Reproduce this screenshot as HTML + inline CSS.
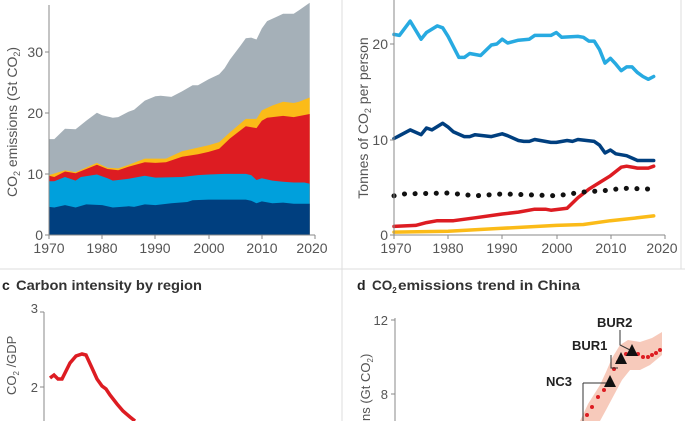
<!DOCTYPE html>
<html><head><meta charset="utf-8"><style>
body{margin:0;background:#fff;width:685px;height:421px;overflow:hidden;font-family:"Liberation Sans",sans-serif}
svg text{font-family:"Liberation Sans",sans-serif}
</style></head><body>
<svg id="s" width="685" height="421" xmlns="http://www.w3.org/2000/svg">
<line x1="0" y1="269" x2="685" y2="269" stroke="#ddd" stroke-width="1"/>
<line x1="342" y1="0" x2="342" y2="421" stroke="#ddd" stroke-width="1"/>
<line x1="681" y1="0" x2="681" y2="269" stroke="#ddd" stroke-width="1"/>
<g id="a"></g><g id="b"></g>
<g stroke="#888" stroke-width="1" fill="none">
<path d="M49,5 V235 H315"/>
<path d="M45,235H49M45,174H49M45,113H49M45,52H49"/>
<path d="M49,235v4M102,235v4M155,235v4M209,235v4M262,235v4M315,235v4"/>
<path d="M394,0 V235 H665"/>
<path d="M390,235H394M390,140H394M390,44H394"/>
<path d="M394,235v4M448,235v4M502,235v4M557,235v4M611,235v4M665,235v4"/>
<path d="M44,312V421M40,312H44M40,387H44"/>
<path d="M395,318V421M391,320H395M391,394H395"/>
</g>
<g fill="#555" font-size="14" text-anchor="end">
<text x="43" y="240">0</text><text x="43" y="179">10</text><text x="43" y="118">20</text><text x="43" y="57">30</text>
<text x="388" y="240">0</text><text x="388" y="145">10</text><text x="388" y="49">20</text>
</g>
<g fill="#555" font-size="14" text-anchor="middle">
<text x="49" y="253">1970</text><text x="102" y="253">1980</text><text x="155" y="253">1990</text><text x="209" y="253">2000</text><text x="262" y="253">2010</text><text x="312" y="253">2020</text>
<text x="396" y="253">1970</text><text x="448" y="253">1980</text><text x="502" y="253">1990</text><text x="557" y="253">2000</text><text x="611" y="253">2010</text><text x="662" y="253">2020</text>
</g>
<text transform="translate(17,122) rotate(-90)" fill="#555" font-size="14" text-anchor="middle">CO<tspan font-size="9" dy="3">2</tspan><tspan dy="-3"> emissions (Gt CO</tspan><tspan font-size="9" dy="3">2</tspan><tspan dy="-3">)</tspan></text>
<text transform="translate(368,118) rotate(-90)" fill="#555" font-size="14" text-anchor="middle">Tonnes of CO<tspan font-size="9" dy="3">2</tspan><tspan dy="-3"> per person</tspan></text>
<text x="2" y="290" font-size="14" font-weight="bold" fill="#222">c</text>
<text x="16" y="290" font-size="13.5" font-weight="bold" fill="#333" textLength="186" lengthAdjust="spacingAndGlyphs">Carbon intensity by region</text>
<text x="357" y="290" font-size="14" font-weight="bold" fill="#222">d</text>
<text x="372" y="290" font-size="13.5" font-weight="bold" fill="#333">CO<tspan font-size="8" dy="3">2</tspan></text>
<text x="398" y="290" font-size="13.5" font-weight="bold" fill="#333" textLength="182" lengthAdjust="spacingAndGlyphs">emissions trend in China</text>
<g fill="#555" font-size="13" text-anchor="end">
<text x="38" y="313">3</text><text x="38" y="392">2</text>
<text x="388" y="325">12</text><text x="388" y="399">8</text>
</g>
<text transform="translate(16,395) rotate(-90)" fill="#555" font-size="13" text-anchor="start">CO<tspan font-size="8" dy="3">2</tspan><tspan dy="-3"> /GDP</tspan></text>
<text transform="translate(370,421) rotate(-90)" fill="#555" font-size="13" text-anchor="start">ns (Gt CO<tspan font-size="8" dy="3">2</tspan><tspan dy="-3">)</tspan></text>
<polyline points="50,378 54,375 58,379 62,379 70,363 76,356 82,354 86,355 92,368 97,379 102,386 106,389 110,395 117,404 123,411 130,417 135,421" fill="none" stroke="#dd1c22" stroke-width="3.5"/>
<polygon points="580,421 588,404 600,385 606,372 612,358 620,345 628,340 640,342 652,338 662,332 662,355 650,365 640,370 630,370 622,380 614,395 606,410 600,421" fill="#f6c4b4" opacity="0.9"/>
<g fill="#dd1c22" id="dots"></g>
<g stroke="#333" stroke-width="1" fill="none">
<path d="M583,383H610M583,383V421"/>
<path d="M611,355V368H618"/>
<path d="M620,330V345L630,350"/>
</g>
<g fill="#111"><polygon points="610,375 616,387 604,387"/><polygon points="621,352 627,364 615,364"/><polygon points="632,344 638,356 626,356"/></g>
<g font-size="13" font-weight="bold" fill="#222"><text x="597" y="327">BUR2</text><text x="572" y="350">BUR1</text><text x="546" y="386">NC3</text></g>
</svg>
<script>
var NS="http://www.w3.org/2000/svg";
function el(p,t,a){var e=document.createElementNS(NS,t);for(var k in a)e.setAttribute(k,a[k]);p.appendChild(e);return e;}
var ax=function(y){return 49+(y-1970)*5.32},ay=function(v){return 235-v*6.11};
var layers=[
["#a5b0b8",[[1970,15.7],[1971,15.7],[1973,17.4],[1975,17.3],[1977,18.7],[1979,20],[1980,19.6],[1982,19.2],[1983,19.3],[1985,20.2],[1986,20.5],[1988,22],[1990,22.7],[1991,22.8],[1993,22.6],[1995,23.5],[1997,24.5],[1998,24.5],[2000,25.5],[2002,26.3],[2003,27.3],[2004,28.7],[2006,31],[2007,32.2],[2008,32.3],[2009,32],[2010,33.8],[2011,35],[2013,35.8],[2014,36.2],[2016,36.2],[2017,36.8],[2019,38]]],
["#fbbb18",[[1970,9.8],[1973,10.6],[1975,10.3],[1979,11.8],[1981,11],[1983,10.9],[1985,11.5],[1988,12.5],[1990,12.5],[1992,12.5],[1995,13.7],[1998,14.3],[2000,14.7],[2002,15.2],[2004,16.8],[2007,19],[2009,19],[2010,20.4],[2012,21.2],[2014,21.8],[2016,21.6],[2017,21.8],[2019,22.5]]],
["#dd1c22",[[1970,9.7],[1971,9.5],[1973,10.4],[1975,10.1],[1979,11.5],[1981,10.8],[1983,10.6],[1985,11.2],[1988,11.9],[1990,11.8],[1992,11.9],[1995,12.8],[1998,13.2],[2000,13.6],[2002,14.1],[2004,15.8],[2007,17.8],[2009,17.5],[2010,18.7],[2011,19.2],[2014,19.5],[2016,19.3],[2019,19.8]]],
["#00a0dc",[[1970,8.8],[1971,8.8],[1973,9.5],[1975,8.9],[1976,9.5],[1979,9.9],[1981,9.3],[1982,8.9],[1985,9.2],[1988,9.7],[1990,9.4],[1995,9.5],[1998,9.8],[2000,9.9],[2003,10],[2007,10],[2008,9.8],[2009,9],[2010,9.3],[2012,8.9],[2014,8.7],[2016,8.6],[2018,8.6],[2019,8.4]]],
["#003f7f",[[1970,4.6],[1971,4.5],[1973,4.9],[1975,4.5],[1977,5],[1980,4.9],[1982,4.5],[1985,4.7],[1986,4.6],[1988,5],[1990,4.9],[1993,5.2],[1996,5.4],[1997,5.7],[2000,5.8],[2003,5.8],[2007,5.8],[2008,5.6],[2009,5.2],[2010,5.5],[2012,5.2],[2014,5.3],[2016,5.1],[2019,5.1]]]];
var ga=document.getElementById("a");
layers.forEach(function(l){var d="M"+ax(1970)+","+ay(0);l[1].forEach(function(p){d+="L"+ax(p[0]).toFixed(1)+","+ay(p[1]).toFixed(1)});d+="L"+ax(2019)+","+ay(0)+"Z";el(ga,"path",{d:d,fill:l[0]});});
var bx=function(y){return 394+(y-1970)*5.41},by=function(v){return 235-v*9.55};
var gb=document.getElementById("b");
function line(pts,c,w,dash){var d="";pts.forEach(function(p,i){d+=(i?"L":"M")+bx(p[0]).toFixed(1)+","+by(p[1]).toFixed(1)});var a={d:d,fill:"none",stroke:c,"stroke-width":w,"stroke-linejoin":"round","stroke-linecap":"round"};if(dash)a["stroke-dasharray"]=dash;el(gb,"path",a);}
line([[1970,0.3],[1980,0.4],[1990,0.7],[2000,1],[2005,1.1],[2010,1.5],[2015,1.8],[2018,2]],"#fbbb18",3.5);
line([[1970,0.9],[1974,1],[1976,1.3],[1978,1.5],[1981,1.5],[1985,1.8],[1990,2.2],[1993,2.4],[1996,2.7],[1998,2.7],[1999,2.6],[2002,2.8],[2004,3.9],[2006,4.8],[2008,5.5],[2010,6.2],[2012,7.1],[2013,7.2],[2015,7],[2017,7],[2018,7.2]],"#dd1c22",3.5);
line([[1970,4.1],[1972,4.3],[1980,4.4],[1985,4.1],[1990,4.3],[2000,4.1],[2005,4.5],[2010,4.7],[2012,4.9],[2018,4.8]],"#111",5,"0.1 10.5");
line([[1970,10.1],[1971,10.4],[1973,11],[1975,10.5],[1976,11.2],[1977,11],[1979,11.7],[1980,11.3],[1981,10.8],[1983,10.3],[1984,10.3],[1985,10.5],[1988,10.3],[1990,10.6],[1991,10.4],[1993,9.9],[1994,9.8],[1995,9.8],[1996,10],[1999,9.7],[2000,9.7],[2002,9.9],[2003,9.8],[2004,10],[2007,9.8],[2008,9.4],[2009,8.6],[2010,8.9],[2011,8.5],[2013,8.3],[2015,7.8],[2018,7.8]],"#003f7f",3.5);
line([[1970,21],[1971,20.9],[1973,22.4],[1975,20.5],[1976,21.2],[1978,21.9],[1979,21.7],[1980,20.8],[1982,18.6],[1983,18.6],[1984,19],[1986,18.8],[1988,19.9],[1989,20],[1990,20.5],[1991,20.1],[1993,20.4],[1995,20.5],[1996,20.9],[1999,20.9],[2000,21.2],[2001,20.7],[2004,20.8],[2005,20.7],[2006,20.3],[2007,20.3],[2008,19.4],[2009,18],[2010,18.5],[2011,17.9],[2012,17.2],[2013,17.6],[2014,17.6],[2015,17],[2016,16.6],[2017,16.3],[2018,16.6]],"#27aae1",3.5);
var gd=document.getElementById("dots");
[[587,415],[592,407],[598,397],[604,390],[614,369],[618,362],[626,354],[638,354],[643,357],[648,357],[652,355],[656,353],[660,350]].forEach(function(p){el(gd,"circle",{cx:p[0],cy:p[1],r:2});});
</script>
</body></html>
